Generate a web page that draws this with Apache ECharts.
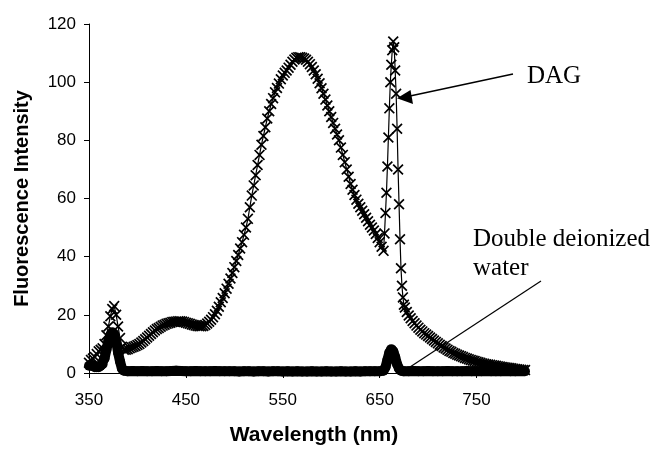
<!DOCTYPE html>
<html>
<head>
<meta charset="utf-8">
<script src="https://cdn.jsdelivr.net/npm/echarts@6/dist/echarts.min.js"></script>
<style>
html, body { margin: 0; padding: 0; background: #fff; }
#chart { width: 658px; height: 451px; }
</style>
</head>
<body>
<div id="chart"></div>
<script>
// tick labels
var xTicks = [350, 450, 550, 650, 750];
var yTicks = [0, 20, 40, 60, 80, 100, 120];

// DAG spectrum [wavelength nm, intensity]
var dag = [
    [350,3.5],[352,4.5],[354,5],[356,5.5],[358,6.5],[360,7.5],[362,8],[364,8.5],[366,10],[368,13],
    [370,16],[372,19.5],[374,22],[376,23],[378,20],[380,16],[382,12],[384,9],[386,8],[388,8],
    [390,8.2],[392,8.5],[394,8.8],[396,9],[398,9.3],[400,9.6],[402,10],[404,10.5],[406,11],[408,11.6],
    [410,12.2],[412,12.8],[414,13.4],[416,14],[418,14.6],[420,15.1],[422,15.5],[424,15.9],[426,16.3],[428,16.6],
    [430,16.9],[432,17.1],[434,17.3],[436,17.5],[438,17.6],[440,17.7],[442,17.8],[444,17.8],[446,17.7],[448,17.5],
    [450,17.3],[452,17.1],[454,16.9],[456,16.7],[458,16.5],[460,16.3],[462,16.2],[464,16.1],[466,16.1],[468,16.2],
    [470,16.5],[472,17],[474,17.6],[476,18.3],[478,19.2],[480,20.2],[482,21.4],[484,22.8],[486,24.3],[488,25.8],
    [490,27.4],[492,29],[494,30.7],[496,32.5],[498,34.4],[500,36.4],[502,38.5],[504,40.6],[506,42.8],[508,45],
    [510,47.5],[512,50],[514,53],[516,57],[518,61],[520,64.5],[522,68],[524,71.5],[526,75],[528,78.5],
    [530,81.5],[532,84.5],[534,87.5],[536,90],[538,92.5],[540,94.5],[542,96.5],[544,98],[546,99.5],[548,101],
    [550,102.3],[552,103.2],[554,104],[556,105],[558,106],[560,107],[562,107.8],[564,108.4],[566,108.6],[568,108.6],
    [570,108.4],[572,108.1],[574,107.7],[576,107],[578,106.2],[580,105.2],[582,104],[584,102.7],[586,101.2],[588,99.6],
    [590,97.9],[592,96],[594,94],[596,92],[598,90],[600,88],[602,86],[604,84],[606,82],[608,80],
    [610,77.5],[612,75],[614,72.5],[616,70],[618,67.5],[620,65],[622,63],[624,61.2],[626,59.6],[628,58.2],
    [630,57],[632,55.8],[634,54.6],[636,53.4],[638,52.2],[640,51],[642,50],[644,49],[646,47.8],[648,46.4],
    [650,45],[652,43.4],[654,42],[655,48],[656,55],[657,62],[658,71],[659,81],[660,91],[661,100],
    [662,106],[663,111],[664,114],[665,112],[666,104],[667,96],[668,84],[669,70],[670,58],[671,46],
    [672,36],[673,30],[674,26],[675,23.5],[676,22.5],[678,21],[680,19.8],[682,18.8],[684,17.9],[686,17.1],
    [688,16.3],[690,15.6],[692,14.9],[694,14.3],[696,13.7],[698,13.2],[700,12.7],[702,12.2],[704,11.7],[706,11.2],
    [708,10.7],[710,10.2],[712,9.7],[714,9.3],[716,8.8],[718,8.4],[720,8],[722,7.6],[724,7.3],[726,6.9],
    [728,6.6],[730,6.3],[732,6],[734,5.8],[736,5.5],[738,5.2],[740,5],[742,4.7],[744,4.5],[746,4.3],
    [748,4.1],[750,3.9],[752,3.7],[754,3.5],[756,3.3],[758,3.2],[760,3],[762,2.9],[764,2.8],[766,2.7],
    [768,2.6],[770,2.5],[772,2.3],[774,2.2],[776,2.1],[778,2],[780,1.9],[782,1.8],[784,1.7],[786,1.6],
    [788,1.5],[790,1.4],[792,1.3],[794,1.2],[796,1.1],[798,1],[800,1]
];

// double deionized water spectrum [wavelength nm, intensity]
var water = [
    [350,2.5],[352,3],[354,2.5],[356,2],[358,2],[360,2],[362,2.5],[364,3],[366,5],[368,8],
    [370,11],[372,13],[374,14],[376,13.5],[378,11],[380,7],[382,4],[384,1.5],[386,0.8],[390,0.6],
    [395,0.7],[400,0.6],[405,0.7],[410,0.6],[415,0.6],[420,0.7],[425,0.6],[430,0.6],[435,0.7],[440,0.8],
    [445,0.7],[450,0.6],[455,0.6],[460,0.7],[465,0.6],[470,0.6],[475,0.6],[480,0.7],[485,0.6],[490,0.6],
    [495,0.6],[500,0.6],[505,0.5],[510,0.6],[515,0.6],[520,0.5],[525,0.6],[530,0.6],[535,0.5],[540,0.6],
    [545,0.6],[550,0.5],[555,0.6],[560,0.5],[565,0.6],[570,0.5],[575,0.5],[580,0.6],[585,0.5],[590,0.5],
    [595,0.6],[600,0.5],[605,0.5],[610,0.6],[615,0.5],[620,0.5],[625,0.6],[630,0.5],[635,0.6],[640,0.6],
    [645,0.6],[650,0.6],[654,0.8],[656,2],[658,4.5],[660,7],[662,8.2],[664,7.5],[666,5.5],[668,3],
    [670,1.5],[672,0.8],[675,0.6],[680,0.6],[685,0.7],[690,0.6],[695,0.6],[700,0.7],[705,0.6],[710,0.6],
    [715,0.6],[720,0.7],[725,0.6],[730,0.6],[735,0.6],[740,0.7],[745,0.6],[750,0.6],[755,0.6],[760,0.7],
    [765,0.6],[770,0.6],[775,0.6],[780,0.7],[785,0.6],[790,0.6],[795,0.7],[800,0.6]
];

// "x" shaped marker, drawn as a filled outline
var crossSymbol = 'path://M0,1.1L1.1,0L5,3.9L8.9,0L10,1.1L6.1,5L10,8.9L8.9,10L5,6.1L1.1,10L0,8.9L3.9,5Z';
var serif = '"Liberation Serif", "Times New Roman", serif';

var chart = echarts.init(document.getElementById('chart'));
var option = {
    animation: false,
    backgroundColor: '#fff',
    grid: {
        left: 89,
        top: 24,
        right: 133,
        bottom: 76
    },
    xAxis: {
        type: 'value',
        min: 350,
        max: 800,
        name: 'Wavelength (nm)',
        nameLocation: 'middle',
        nameGap: 52,
        nameTextStyle: {
            fontFamily: 'Liberation Sans',
            fontWeight: 'bold',
            fontSize: 21,
            color: '#000',
            padding: [0, 0, 0, 14]
        },
        axisLine: { lineStyle: { color: '#000', width: 1 } },
        axisTick: { length: 5, customValues: xTicks, lineStyle: { color: '#000' } },
        axisLabel: {
            customValues: xTicks,
            margin: 19,
            fontFamily: 'Liberation Sans',
            fontSize: 17,
            color: '#000'
        },
        splitLine: { show: false }
    },
    yAxis: {
        type: 'value',
        min: 0,
        max: 120,
        interval: 20,
        name: 'Fluorescence Intensity',
        nameLocation: 'middle',
        nameGap: 57,
        nameTextStyle: {
            fontFamily: 'Liberation Sans',
            fontWeight: 'bold',
            fontSize: 20,
            color: '#000'
        },
        axisLine: { show: true, lineStyle: { color: '#000', width: 1 } },
        axisTick: { show: true, length: 5, lineStyle: { color: '#000' } },
        axisLabel: {
            customValues: yTicks,
            margin: 13,
            fontFamily: 'Liberation Sans',
            fontSize: 17,
            color: '#000'
        },
        splitLine: { show: false }
    },
    series: [
        {
            name: 'Double deionized water',
            type: 'line',
            data: water,
            clip: false,
            symbol: 'circle',
            symbolSize: 10,
            showAllSymbol: true,
            itemStyle: { color: '#000' },
            lineStyle: { color: '#000', width: 10 }
        },
        {
            name: 'DAG',
            type: 'line',
            data: dag,
            clip: false,
            symbol: crossSymbol,
            symbolSize: 11,
            showAllSymbol: true,
            itemStyle: { color: '#000' },
            lineStyle: { color: '#000', width: 1.2 }
        }
    ],
    graphic: [
        {
            type: 'text',
            style: { text: 'DAG', x: 527, y: 76, font: '25px ' + serif, fill: '#000', verticalAlign: 'middle' }
        },
        {
            type: 'line',
            shape: { x1: 513, y1: 74, x2: 410, y2: 96 },
            style: { stroke: '#000', lineWidth: 1.5 }
        },
        {
            type: 'polygon',
            shape: { points: [[397, 98.3], [410.5, 90], [413, 104]] },
            style: { fill: '#000' }
        },
        {
            type: 'text',
            style: { text: 'Double deionized', x: 473, y: 239, font: '25px ' + serif, fill: '#000', verticalAlign: 'middle' }
        },
        {
            type: 'text',
            style: { text: 'water', x: 473, y: 268, font: '25px ' + serif, fill: '#000', verticalAlign: 'middle' }
        },
        {
            type: 'line',
            shape: { x1: 541, y1: 281, x2: 410, y2: 367 },
            style: { stroke: '#000', lineWidth: 1.2 }
        }
    ]
};
chart.setOption(option);
</script>
</body>
</html>
